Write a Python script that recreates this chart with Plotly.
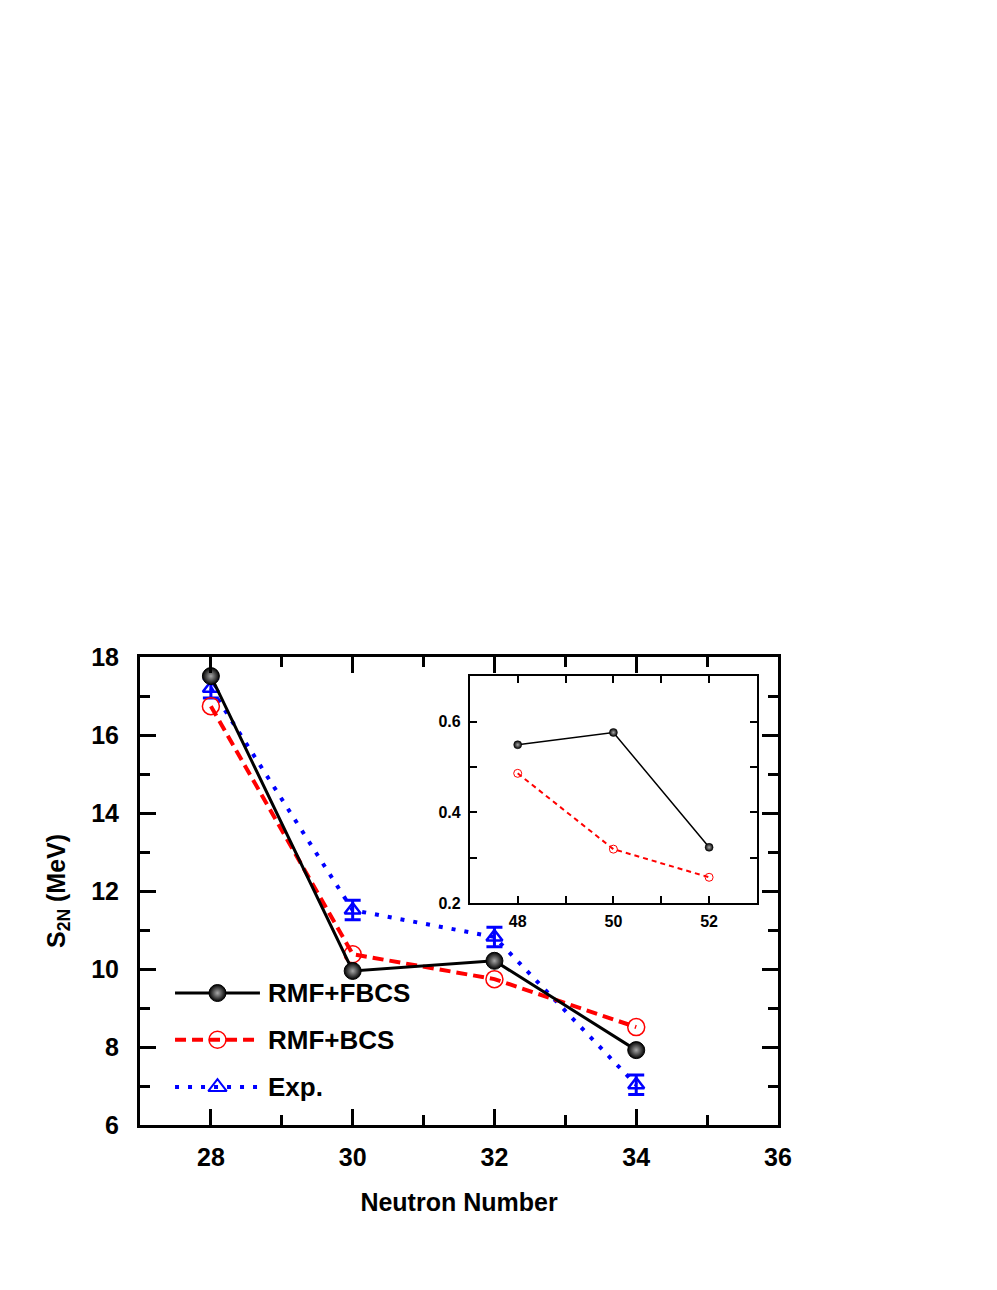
import plotly.graph_objects as go

# main panel: two-neutron separation energy
neutron = [28, 30, 32, 34]
s2n_fbcs = [17.51, 9.95, 10.21, 7.92]
s2n_bcs = [16.74, 10.38, 9.74, 8.51]
s2n_exp = [17.2, 11.51, 10.82, 7.03]
s2n_exp_err = [0.25, 0.25, 0.25, 0.25]

# inset panel
inset_n = [48, 50, 52]
inset_fbcs = [0.549, 0.576, 0.323]
inset_bcs = [0.486, 0.319, 0.257]

legend_names = ["RMF+FBCS", "RMF+BCS", "Exp."]

FONT = "Liberation Sans, Arial, sans-serif"
RED_DASH = "11px,6px"
BLUE_DOT = "4px,9px"

fig = go.Figure()

sphere = dict(symbol="circle", size=17, color="black",
              gradient=dict(type="radial", color="#a8a8a8"),
              line=dict(color="black", width=1))

fig.add_trace(go.Scatter(x=neutron, y=s2n_exp, mode="lines+markers",
                         line=dict(color="blue", width=4, dash=BLUE_DOT),
                         marker=dict(symbol="triangle-up-open", size=14, color="blue",
                                     line=dict(width=2.5, color="blue")),
                         error_y=dict(type="data", array=s2n_exp_err, color="blue",
                                      thickness=3, width=8),
                         showlegend=False))
fig.add_trace(go.Scatter(x=neutron, y=s2n_bcs, mode="lines+markers",
                         line=dict(color="red", width=4, dash=RED_DASH),
                         marker=dict(symbol="circle-open", size=17, color="red",
                                     line=dict(width=1.5, color="red")),
                         showlegend=False))
fig.add_trace(go.Scatter(x=neutron, y=s2n_fbcs, mode="lines+markers",
                         line=dict(color="black", width=3),
                         marker=sphere, showlegend=False))

# inset
fig.add_trace(go.Scatter(x=inset_n, y=inset_fbcs, mode="lines+markers",
                         xaxis="x2", yaxis="y2",
                         line=dict(color="black", width=1.5),
                         marker=dict(symbol="circle", size=8, color="black",
                                     gradient=dict(type="radial", color="#a8a8a8"),
                                     line=dict(color="black", width=0.5)),
                         showlegend=False))
fig.add_trace(go.Scatter(x=inset_n, y=inset_bcs, mode="lines+markers",
                         xaxis="x2", yaxis="y2",
                         line=dict(color="red", width=2, dash="5px,4px"),
                         marker=dict(symbol="circle-open", size=8, color="red",
                                     line=dict(width=1, color="red")),
                         showlegend=False))

# hand-made legend (long sample lines like the original)
rows = [0.282, 0.182, 0.081]
styles = [
    (dict(color="black", width=3), sphere),
    (dict(color="red", width=4, dash=RED_DASH),
     dict(symbol="circle-open", size=17, color="red", line=dict(width=1.5, color="red"))),
    (dict(color="blue", width=4, dash=BLUE_DOT),
     dict(symbol="triangle-up-open", size=16, color="blue", line=dict(width=2, color="blue"))),
]
for name, yy, (ln, mk) in zip(legend_names, rows, styles):
    fig.add_trace(go.Scatter(x=[0, 1], y=[yy, yy], mode="lines", line=ln,
                             xaxis="x3", yaxis="y3", showlegend=False, hoverinfo="skip"))
    fig.add_trace(go.Scatter(x=[0.5], y=[yy], mode="markers", marker=mk,
                             xaxis="x3", yaxis="y3", showlegend=False, hoverinfo="skip"))
    fig.add_annotation(text=f"<b>{name}</b>", x=0.198, y=yy, xref="paper", yref="paper",
                       xanchor="left", yanchor="middle", showarrow=False,
                       font=dict(family=FONT, size=26, color="black"))

main_ax = dict(showline=True, linewidth=3, linecolor="black", mirror="allticks",
               ticks="inside", ticklen=16, tickwidth=3, tickcolor="black",
               showgrid=False, zeroline=False,
               tickfont=dict(family=FONT, size=25, color="black", weight="bold"))
inset_ax = dict(showline=True, linewidth=2, linecolor="black", mirror="allticks",
                ticks="inside", ticklen=7, tickwidth=2, tickcolor="black",
                showgrid=False, zeroline=False,
                tickfont=dict(family=FONT, size=16, color="black", weight="bold"))

# page body adds ~8px offset, margins compensate
fig.update_layout(
    width=997, height=1290,
    margin=dict(l=132, r=227, t=649, b=173),
    paper_bgcolor="white", plot_bgcolor="rgba(0,0,0,0)",
    xaxis=dict(main_ax, range=[27, 36], tickvals=[28, 30, 32, 34, 36],
               minor=dict(tickvals=[27, 29, 31, 33, 35], ticklen=10, tickwidth=3,
                          tickcolor="black", ticks="inside"),
               ticklabelstandoff=8,
               title=dict(text="<b>Neutron Number</b>", standoff=24,
                          font=dict(family=FONT, size=25, color="black"))),
    yaxis=dict(main_ax, range=[6, 18], tickvals=[6, 8, 10, 12, 14, 16, 18],
               minor=dict(tickvals=[7, 9, 11, 13, 15, 17], ticklen=10, tickwidth=3,
                          tickcolor="black", ticks="inside"),
               ticklabelstandoff=13,
               title=dict(text="<b>S<sub>2N</sub> (MeV)</b>", standoff=19,
                          font=dict(family=FONT, size=25, color="black"))),
    xaxis2=dict(inset_ax, domain=[0.517, 0.967], anchor="y2", range=[47, 53],
                tickvals=[48, 50, 52], ticklabelstandoff=3,
                minor=dict(tickvals=[47, 49, 51, 53], ticklen=7, tickwidth=2,
                           tickcolor="black", ticks="inside")),
    yaxis2=dict(inset_ax, domain=[0.474, 0.959], anchor="x2", range=[0.2, 0.7],
                tickvals=[0.2, 0.4, 0.6], tickformat=".1f", ticklabelstandoff=4,
                minor=dict(tickvals=[0.3, 0.5, 0.7], ticklen=7, tickwidth=2,
                           tickcolor="black", ticks="inside")),
    xaxis3=dict(domain=[0.0549, 0.188], range=[0, 1], anchor="y3", visible=False),
    yaxis3=dict(domain=[0, 1], range=[0, 1], anchor="x3", visible=False),
)

fig.write_html("out.html")
